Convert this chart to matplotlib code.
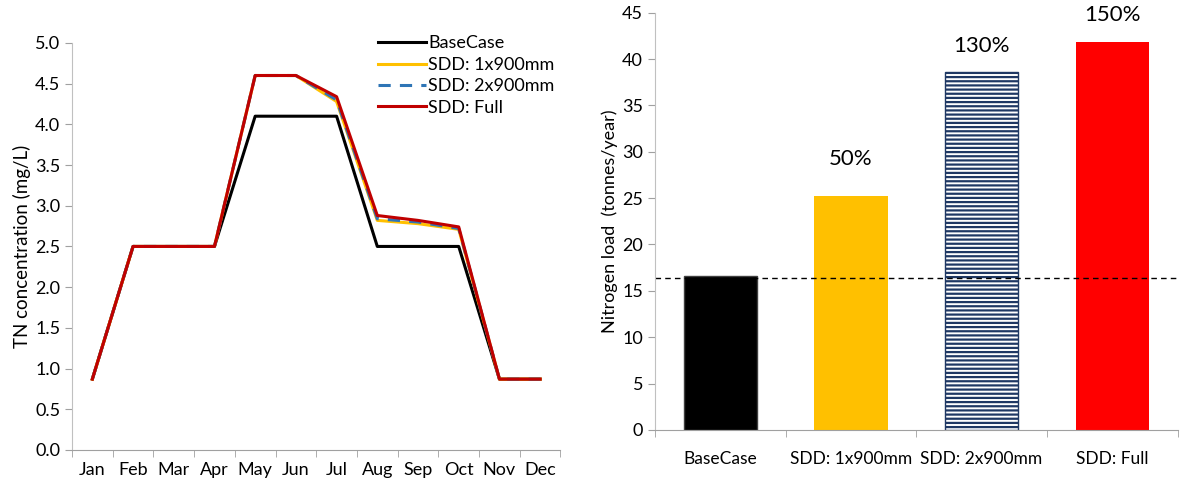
import matplotlib.pyplot as plt

plt.rcParams['font.family'] = ['Lato', 'DejaVu Sans']
plt.rcParams['hatch.linewidth'] = 1.6

months = ['Jan', 'Feb', 'Mar', 'Apr', 'May', 'Jun', 'Jul', 'Aug', 'Sep', 'Oct', 'Nov', 'Dec']
base_case = [0.87, 2.5, 2.5, 2.5, 4.1, 4.1, 4.1, 2.5, 2.5, 2.5, 0.87, 0.87]
sdd_1x900 = [0.87, 2.5, 2.5, 2.5, 4.6, 4.6, 4.28, 2.82, 2.78, 2.71, 0.87, 0.87]
sdd_2x900 = [0.87, 2.5, 2.5, 2.5, 4.6, 4.6, 4.30, 2.84, 2.80, 2.72, 0.87, 0.87]
sdd_full = [0.87, 2.5, 2.5, 2.5, 4.6, 4.6, 4.34, 2.88, 2.82, 2.74, 0.87, 0.87]

scenarios = ['BaseCase', 'SDD: 1x900mm', 'SDD: 2x900mm', 'SDD: Full']
loads = [16.6, 25.2, 38.6, 41.8]
pct_labels = ['', '50%', '130%', '150%']
pct_label_y = [0, 29.2, 41.4, 44.8]
base_load = 16.4

fig = plt.figure(figsize=(11.8, 4.88), dpi=100)

# left: monthly TN concentration
ax1 = fig.add_axes([0.061, 0.078, 0.414, 0.834])
x = range(len(months))
ax1.plot(x, base_case, color='black', lw=2.2, label='BaseCase')
ax1.plot(x, sdd_1x900, color='#ffc000', lw=2.2, label='SDD: 1x900mm')
ax1.plot(x, sdd_2x900, color='#2e75b6', lw=2.2, ls=(0, (4, 3)), label='SDD: 2x900mm')
ax1.plot(x, sdd_full, color='#c00000', lw=2.2, label='SDD: Full')
ax1.set_xlim(-0.5, 11.5)
ax1.set_ylim(0, 5)
ax1.set_yticks([i * 0.5 for i in range(11)])
ax1.set_yticklabels([f'{i * 0.5:.1f}' for i in range(11)])
ax1.set_xticks(list(x))
ax1.set_xticklabels(months)
ax1.set_xticks([i - 0.5 for i in range(13)], minor=True)
ax1.tick_params(axis='x', which='major', length=0, labelsize=13, pad=9)
ax1.tick_params(axis='x', which='minor', length=5, color='#a0a0a0', direction='out')
ax1.tick_params(axis='y', length=5, color='#a0a0a0', labelsize=13)
ax1.set_ylabel('TN concentration (mg/L)', fontsize=13.5, labelpad=3)
for s in ['top', 'right']:
    ax1.spines[s].set_visible(False)
ax1.spines['left'].set_color('#c0c0c0')
ax1.spines['bottom'].set_color('#a0a0a0')
ax1.legend(loc='upper right', bbox_to_anchor=(1.01, 1.045), frameon=False, fontsize=13,
           handlelength=2.7, handletextpad=0.1, labelspacing=0.3, borderaxespad=0.2)

# right: annual nitrogen load
ax2 = fig.add_axes([0.555, 0.119, 0.443, 0.855])
colors = ['black', '#ffc000', 'white', '#ff0000']
bars = ax2.bar(range(4), loads, width=0.56, color=colors)
bars[2].set_hatch('----')
bars[2].set_edgecolor('#1f3864')
bars[2].set_linewidth(1)
bars[0].set_edgecolor('#404040')
for i, lab in enumerate(pct_labels):
    if lab:
        ax2.text(i, pct_label_y[i], lab, ha='center', va='center', fontsize=16, clip_on=False)
ax2.axhline(base_load, color='black', ls=(0, (4, 3)), lw=1)
ax2.set_xlim(-0.5, 3.5)
ax2.set_ylim(0, 45)
ax2.set_yticks(range(0, 46, 5))
ax2.set_xticks(range(4))
ax2.set_xticklabels(scenarios)
ax2.set_xticks([i - 0.5 for i in range(5)], minor=True)
ax2.tick_params(axis='x', which='major', length=0, labelsize=12.5, pad=15)
ax2.tick_params(axis='x', which='minor', length=5, color='#a0a0a0', direction='out')
ax2.tick_params(axis='y', length=5, color='#a0a0a0', labelsize=13)
ax2.set_ylabel('Nitrogen load  (tonnes/year)', fontsize=13, labelpad=3)
for s in ['top', 'right']:
    ax2.spines[s].set_visible(False)
ax2.spines['left'].set_color('#c0c0c0')
ax2.spines['bottom'].set_color('#a0a0a0')

fig.savefig('out.png', dpi=100)
